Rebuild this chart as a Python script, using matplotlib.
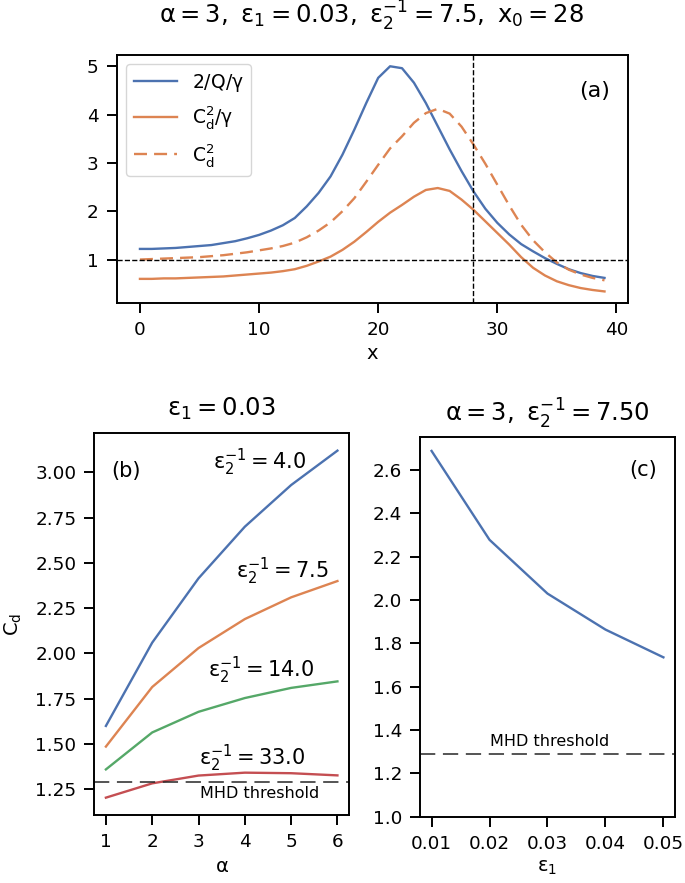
import matplotlib
matplotlib.use("Agg")
import matplotlib.pyplot as plt

# (a) profiles along x
x = list(range(40))
q_gamma = [1.22, 1.22, 1.23, 1.24, 1.26, 1.28, 1.30, 1.34, 1.38, 1.44,
           1.51, 1.60, 1.71, 1.86, 2.10, 2.38, 2.72, 3.17, 3.69, 4.24,
           4.76, 5.00, 4.96, 4.66, 4.24, 3.76, 3.28, 2.83, 2.41, 2.05,
           1.76, 1.52, 1.32, 1.17, 1.03, 0.91, 0.80, 0.72, 0.66, 0.62]
cd2_gamma = [0.60, 0.60, 0.61, 0.61, 0.62, 0.63, 0.64, 0.65, 0.67, 0.69,
             0.71, 0.73, 0.76, 0.80, 0.87, 0.96, 1.06, 1.20, 1.37, 1.57,
             1.78, 1.97, 2.13, 2.30, 2.44, 2.48, 2.42, 2.24, 2.03, 1.79,
             1.55, 1.31, 1.05, 0.83, 0.67, 0.55, 0.47, 0.41, 0.37, 0.34]
cd2 = [1.00, 1.01, 1.02, 1.03, 1.04, 1.05, 1.07, 1.09, 1.12, 1.15,
       1.19, 1.23, 1.28, 1.35, 1.46, 1.60, 1.77, 2.00, 2.27, 2.61,
       2.96, 3.30, 3.55, 3.83, 4.03, 4.12, 4.02, 3.75, 3.38, 2.98,
       2.55, 2.12, 1.72, 1.40, 1.15, 0.94, 0.79, 0.69, 0.62, 0.57]
x0 = 28

# (b) Cd vs alpha for several eps2^-1
alpha = [1, 2, 3, 4, 5, 6]
eps2_inv = [4.0, 7.5, 14.0, 33.0]
cd_alpha = [
    [1.60, 2.06, 2.415, 2.70, 2.93, 3.12],
    [1.486, 1.815, 2.03, 2.19, 2.31, 2.40],
    [1.36, 1.564, 1.678, 1.754, 1.81, 1.846],
    [1.204, 1.283, 1.326, 1.342, 1.339, 1.327],
]
label_pos = [(3.32, 3.015), (3.80, 2.413), (3.21, 1.868), (3.00, 1.381)]

# (c) Cd vs eps1
eps1 = [0.01, 0.02, 0.03, 0.04, 0.05]
cd_eps1 = [2.687, 2.277, 2.029, 1.863, 1.735]

mhd = 1.29

blue, orange, green, red = "#4C72B0", "#DD8452", "#55A868", "#C44E52"
colors = [blue, orange, green, red]

plt.rcParams["mathtext.default"] = "regular"
plt.rcParams["axes.linewidth"] = 1.4
for a in ("xtick", "ytick"):
    plt.rcParams[a + ".major.width"] = 1.4
    plt.rcParams[a + ".major.size"] = 7
    plt.rcParams[a + ".major.pad"] = 6
    plt.rcParams[a + ".labelsize"] = 13.2

fig = plt.figure(figsize=(6.85, 8.83), dpi=100)
ax1 = fig.add_axes([0.1704, 0.6572, 0.746, 0.2805])
ax2 = fig.add_axes([0.1377, 0.0770, 0.3718, 0.4323])
ax3 = fig.add_axes([0.6131, 0.0751, 0.3723, 0.4297])

lw = 1.7
ax1.plot(x, q_gamma, color=blue, lw=lw, label=r"$2/Q/γ$")
ax1.plot(x, cd2_gamma, color=orange, lw=lw, label=r"$C_d^2/γ$")
ax1.plot(x, cd2, color=orange, lw=lw, ls=(0, (5.5, 3)), label=r"$C_d^2$")
ax1.axhline(1, color="k", lw=1, ls="--")
ax1.axvline(x0, color="k", lw=1, ls="--")
ax1.set_xticks([0, 10, 20, 30, 40])
ax1.set_xlabel("x", fontsize=14)
ax1.legend(loc="upper left", fontsize=13.5, handlelength=2.3, labelspacing=0.55)
ax1.text(0.965, 0.855, "(a)", transform=ax1.transAxes, ha="right", va="center", fontsize=16)
fig.text(372 / 685, 1 - 24 / 883, r"$α = 3,\ ε_1 = 0.03,\ ε_2^{-1} = 7.5,\ x_0 = 28$",
         fontsize=17.5, ha="center", va="baseline")

for vals, e, c, (tx, ty) in zip(cd_alpha, eps2_inv, colors, label_pos):
    ax2.plot(alpha, vals, color=c, lw=lw)
    ax2.text(tx, ty, r"$ε_2^{-1} = %.1f$" % e, fontsize=15, ha="left", va="baseline")
ax2.axhline(mhd, color="0.15", lw=1.1, ls=(0, (10, 5)))
ax2.text(4.32, 1.268, "MHD threshold", fontsize=11.5, ha="center", va="top")
ax2.text(0.068, 0.90, "(b)", transform=ax2.transAxes, ha="left", va="center", fontsize=15)
ax2.set_xticks(alpha)
ax2.set_xlabel(r"$α$", fontsize=14)
ax2.set_ylabel(r"$C_d$", fontsize=14, labelpad=8)
fig.text((94.3 + 349) / 2 / 685, 1 - 416 / 883, r"$ε_1 = 0.03$",
         fontsize=17.5, ha="center", va="baseline")

ax3.plot(eps1, cd_eps1, color=blue, lw=lw)
ax3.axhline(mhd, color="0.15", lw=1.1, ls=(0, (10, 5)))
ax3.text(0.0304, 1.325, "MHD threshold", fontsize=11.5, ha="center", va="baseline")
ax3.text(0.93, 0.914, "(c)", transform=ax3.transAxes, ha="right", va="center", fontsize=15)
ax3.set_ylim(1.0, 2.75)
ax3.set_xticks(eps1)
ax3.set_xlabel(r"$ε_1$", fontsize=14)
fig.text((420 + 675) / 2 / 685, 1 - 421.7 / 883, r"$α = 3,\ ε_2^{-1} = 7.50$",
         fontsize=17.5, ha="center", va="baseline")

fig.savefig("out.png", dpi=100)
